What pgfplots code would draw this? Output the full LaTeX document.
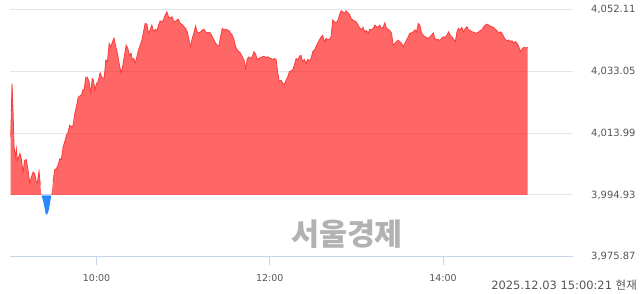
\documentclass[border=0pt]{standalone}
\usepackage{pgfplots}
\pgfplotsset{compat=1.18}
\usepackage{pgfplotstable}
\usepackage{fontspec}
\setmainfont{DejaVu Sans}
\newfontfamily\kr{Noto Sans CJK KR}
\definecolor{redfill}{RGB}{255,30,30}
\definecolor{redline}{RGB}{250,60,60}
\definecolor{bluefill}{RGB}{40,135,250}
\definecolor{gridc}{RGB}{229,229,229}
\definecolor{axisc}{RGB}{200,212,232}
\definecolor{labelc}{RGB}{85,85,85}
\definecolor{wmc}{RGB}{178,178,178}

\pgfplotstableread{
x y
0.5 3994.93
0.5 4012.8
1.4 4029.3
2.1 4021.1
2.8 4009.7
3.7 4006.6
4.4 4009.2
5.1 4005.6
6.0 4006.6
6.9 4007.7
7.8 4006.1
9.0 4002.0
10.2 4005.6
11.3 4005.8
12.5 4002.5
13.7 3998.6
14.8 4000.4
16.0 4002.0
17.1 4001.5
18.2 3998.9
18.9 3998.6
20.1 4002.3
21.0 3997.9
21.7 3994.93
}\redA

\pgfplotstableread{
x y
21.7 3994.93
22.9 3993.2
24.1 3990.7
24.8 3988.8
25.9 3989.1
26.8 3990.1
28.0 3993.2
28.65 3994.93
}\blueA

\pgfplotstableread{
x y
28.65 3994.93
29.8 3998.9
31.0 4002.7
32.1 4003.0
33.3 4004.1
34.5 4006.1
35.6 4005.8
36.8 4009.7
37.9 4011.3
39.1 4013.3
40.2 4014.3
41.4 4016.4
42.5 4015.9
43.7 4016.4
44.9 4020.0
46.0 4022.1
47.2 4025.0
48.3 4025.4
49.5 4025.7
50.6 4027.4
51.3 4027.2
52.5 4031.2
53.6 4031.2
54.8 4029.8
56.0 4026.2
56.9 4030.8
57.8 4030.3
58.8 4027.2
59.9 4029.3
61.0 4029.8
62.4 4032.6
63.6 4031.2
65.2 4030.8
66.4 4036.5
67.5 4036.0
68.7 4041.7
69.9 4040.6
71.0 4042.2
72.1 4043.2
73.3 4040.6
74.4 4038.6
75.6 4035.5
77.0 4032.4
78.2 4035.0
79.3 4038.0
80.5 4041.1
81.6 4040.1
82.8 4038.0
83.9 4038.6
84.8 4036.5
85.8 4037.0
86.7 4035.5
87.9 4037.5
89.0 4039.6
90.2 4041.1
91.4 4042.7
92.5 4045.2
93.6 4047.8
94.8 4047.6
95.9 4044.8
97.1 4045.8
98.3 4047.3
99.4 4045.2
100.6 4046.0
101.8 4045.6
102.9 4047.3
104.0 4048.6
105.2 4048.3
106.3 4048.9
107.5 4050.4
108.7 4051.4
109.8 4049.9
111.0 4049.4
112.2 4049.9
113.3 4048.6
114.4 4048.3
115.6 4048.9
116.7 4049.1
117.9 4047.8
119.1 4047.6
120.5 4046.8
121.6 4046.3
122.8 4045.2
124.0 4042.7
125.1 4040.6
126.2 4043.2
127.4 4044.8
128.5 4047.0
129.7 4045.2
130.9 4044.8
132.0 4045.2
133.2 4045.8
134.4 4046.0
135.5 4045.2
136.6 4044.9
137.8 4045.1
138.9 4044.8
140.1 4043.7
141.3 4042.7
142.4 4041.7
143.6 4041.1
144.8 4041.1
145.9 4043.7
147.0 4046.3
148.2 4045.8
149.3 4046.0
150.5 4045.8
151.7 4045.6
152.8 4044.8
154.0 4044.2
155.2 4042.7
156.3 4040.6
157.5 4039.6
158.6 4039.1
159.7 4038.6
160.9 4037.5
162.1 4036.5
163.2 4033.9
164.4 4037.0
165.6 4037.5
166.7 4037.0
167.9 4037.7
169.0 4039.1
170.1 4038.4
171.3 4036.7
172.5 4037.0
173.6 4037.3
174.8 4037.5
176.0 4037.7
177.1 4037.3
178.3 4037.5
179.4 4037.3
180.8 4037.0
181.9 4036.7
183.1 4037.0
184.3 4036.7
185.4 4032.9
186.6 4029.8
187.8 4030.3
188.9 4029.3
190.1 4029.1
191.2 4030.3
192.3 4031.2
193.5 4032.9
194.7 4033.2
195.8 4033.4
197.0 4035.0
198.2 4037.0
199.3 4036.5
200.5 4037.7
201.6 4038.0
202.7 4036.0
203.9 4036.7
205.1 4035.5
206.2 4036.7
207.4 4036.3
208.6 4037.0
209.7 4039.1
210.9 4039.6
212.0 4040.6
213.1 4041.7
214.3 4042.7
215.5 4043.7
216.6 4044.2
217.8 4042.2
219.0 4043.2
220.1 4042.7
221.3 4042.9
222.4 4043.7
223.6 4048.9
224.7 4048.3
225.9 4048.0
227.0 4048.6
228.2 4050.4
229.4 4051.7
230.5 4051.4
231.7 4050.9
232.8 4051.7
234.0 4051.1
235.1 4050.7
236.3 4049.4
237.4 4048.9
238.6 4048.6
239.8 4048.3
241.2 4047.3
242.3 4046.3
243.5 4046.0
244.6 4046.6
245.7 4045.2
246.9 4045.6
248.1 4044.8
249.2 4046.0
250.4 4045.8
251.6 4046.3
252.7 4047.3
253.9 4046.8
255.0 4046.6
256.2 4047.3
257.3 4046.3
258.5 4046.6
259.6 4048.0
260.8 4046.3
262.0 4046.0
263.1 4045.6
264.3 4044.8
265.4 4041.1
266.6 4041.7
267.7 4042.2
268.9 4042.7
270.0 4042.2
271.2 4041.7
272.4 4040.6
273.5 4041.7
274.7 4042.7
275.9 4043.7
277.0 4044.8
278.1 4044.9
279.3 4045.2
280.4 4045.8
281.6 4045.2
282.8 4047.8
283.9 4047.3
285.1 4044.8
286.3 4044.2
287.4 4043.7
288.5 4043.5
289.7 4043.2
290.8 4043.7
292.0 4044.2
293.2 4044.9
294.3 4043.2
295.5 4042.7
296.7 4042.9
297.8 4042.5
298.9 4043.2
300.3 4043.7
301.5 4043.5
302.6 4044.2
303.8 4045.2
305.0 4044.2
306.1 4043.7
307.3 4042.9
308.5 4042.2
309.6 4045.2
310.7 4046.3
311.9 4045.8
313.0 4046.6
314.2 4045.2
315.4 4046.3
316.5 4046.8
317.7 4045.8
318.9 4045.6
320.0 4045.2
321.1 4045.2
322.3 4044.9
323.4 4044.8
324.6 4045.2
325.8 4045.6
326.9 4045.8
328.1 4046.8
329.3 4047.3
330.4 4047.6
331.5 4047.3
332.7 4047.0
333.8 4046.8
335.0 4046.6
336.2 4046.0
337.3 4045.6
338.5 4044.9
339.7 4045.2
340.8 4044.8
342.0 4043.7
343.1 4042.9
344.2 4042.5
345.4 4042.7
346.6 4042.2
347.7 4042.5
348.9 4041.8
350.1 4042.2
351.2 4041.7
352.4 4040.8
353.5 4039.1
354.6 4039.8
355.8 4040.4
357.0 4040.3
358.6 4040.4
358.6 3994.93
}\redB

\begin{document}
\begin{tikzpicture}
\useasboundingbox (0,0) rectangle (640bp,294bp);
\begin{axis}[
  at={(10bp,37.3bp)}, anchor=south west,
  scale only axis, width=563bp, height=247.2bp,
  xmin=0, xmax=390, ymin=3975.87, ymax=4052.11,
  axis x line*=bottom, axis y line*=right,
  x axis line style={draw=axisc, line width=0.8bp, -},
  y axis line style={draw=none},
  xtick={60,180,300}, xticklabels={10:00,12:00,14:00},
  ytick={3975.87,3994.93,4013.99,4033.05,4052.11},
  yticklabels={{3,975.87},{3,994.93},{4,013.99},{4,033.05},{4,052.11}},
  ymajorgrids, major grid style={draw=gridc, line width=0.8bp},
  tick align=outside, major tick length=8bp,
  xtick style={draw=axisc, line width=0.8bp},
  ytick style={draw=none},
  xticklabel style={font=\fontsize{9.5}{11}\selectfont, text=labelc, inner sep=0pt, anchor=north, yshift=-10bp},
  yticklabel style={font=\fontsize{10}{12}\selectfont, text=labelc, inner sep=0pt, anchor=west, xshift=10bp},
]
\addplot[draw=none, fill=redfill, fill opacity=0.68] table {\redA} -- cycle;
\addplot[draw=none, fill=bluefill] table {\blueA} -- cycle;
\addplot[draw=none, fill=redfill, fill opacity=0.68] table {\redB} -- cycle;
\addplot[draw=redline, line width=0.8bp, restrict y to domain=3995:4060] table {\redA};
\addplot[draw=redline, line width=0.8bp, restrict y to domain=3995:4060] table {\redB};
\addplot[draw=white, line width=0.6bp, opacity=0.45] coordinates {(0.5,3994.93) (358.6,3994.93)};
\end{axis}
\node[font=\kr\bfseries\fontsize{30.5}{31}\selectfont, text=wmc] at (347bp,59.5bp) {서울경제};
\node[anchor=base east, inner sep=0pt, text=labelc, font=\fontsize{11.5}{13}\selectfont] at (637bp,5bp) {2025.12.03 15:00:21 {\kr 현재}};
\end{tikzpicture}
\end{document}
